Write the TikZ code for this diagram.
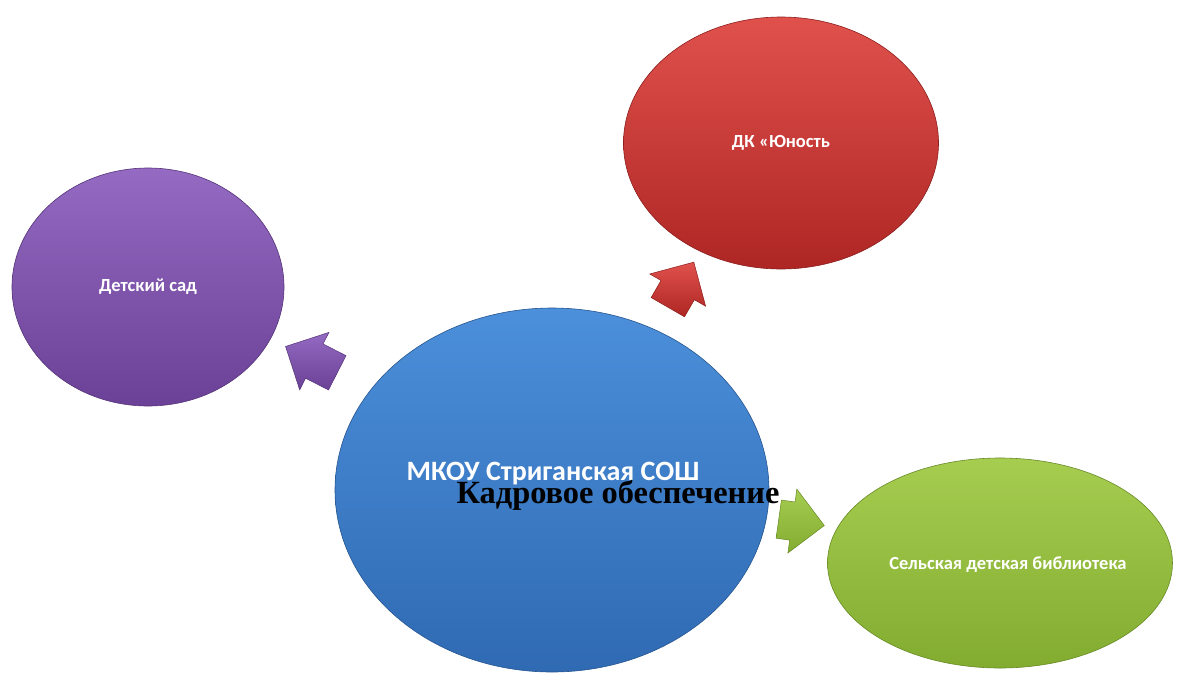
\documentclass[tikz,border=0pt]{standalone}
\usepackage{fontspec}
\setmainfont{Liberation Serif}
\newfontfamily\calibri{Carlito}
\usetikzlibrary{shapes,arrows,positioning}
\usepackage{xcolor}

\definecolor{fioletG}{HTML}{946AC2}
\definecolor{fioletD}{HTML}{6A4196}
\definecolor{czerwonyG}{HTML}{E0514C}
\definecolor{czerwonyD}{HTML}{AE2624}
\definecolor{niebieskiG}{HTML}{4C8FDA}
\definecolor{niebieskiD}{HTML}{2F6AB3}
\definecolor{zielonyG}{HTML}{A6CD50}
\definecolor{zielonyD}{HTML}{82AC30}

\tikzset{
    kolo/.style 2 args={ellipse, inner sep=0pt, top color=#1, bottom color=#2, draw=#2!80!black, line width=0.6pt},
    strzalka/.style 2 args={single arrow, inner xsep=0pt, inner ysep=19pt, minimum width=64pt, single arrow head extend=13pt, top color=#1, bottom color=#2, draw=#2!80!black, line width=0.5pt},
    napis/.style={text=white, font=\calibri\bfseries\fontsize{18.5}{22}\selectfont}
}

\begin{document}
\begin{tikzpicture}[x=1pt, y=-1pt]

            \useasboundingbox (0, 0) rectangle (1179, 673);

            % Strzałki od szkoły
            \node[strzalka={fioletG}{fioletD}, minimum height=58pt, rotate=153] (doSadu) at (320, 364) {};
            \node[strzalka={czerwonyG}{czerwonyD}, minimum height=52pt, rotate=60] (doDK) at (676, 293) {};
            \node[strzalka={zielonyG}{zielonyD}, minimum height=46pt, rotate=-8] (doBiblioteki) at (792, 521) {};

            % Otoczenie szkoły
            \node[kolo={fioletG}{fioletD}, minimum width=272pt, minimum height=238pt] (sad) at (148, 287) {};
            \node[kolo={czerwonyG}{czerwonyD}, minimum width=315pt, minimum height=252pt] (dk) at (781, 143) {};
            \node[kolo={zielonyG}{zielonyD}, minimum width=345pt, minimum height=210pt] (biblioteka) at (1000, 563) {};

            % Napisy w kołach
            \node[napis] (napisSad) at (sad.center) {Детский сад};
            \node[napis] (napisDK) at (dk.center) {ДК «Юность};
            \node[napis] (napisBiblioteka) at (1008, 565) {Сельская детская библиотека};

            % Szkoła
            \node[kolo={niebieskiG}{niebieskiD}, minimum width=434pt, minimum height=364pt] (szkola) at (552, 490) {};
            \node[napis, inner sep=0pt, anchor=base, font=\calibri\bfseries\fontsize{28}{30}\selectfont] (nazwa) at (553, 480) {МКОУ Стриганская СОШ};

            % Tytuł
            \node[inner sep=0pt, anchor=base, font=\bfseries\fontsize{32.4}{36}\selectfont] (tytul) at (618, 503) {Кадровое обеспечение};

\end{tikzpicture}
\end{document}
